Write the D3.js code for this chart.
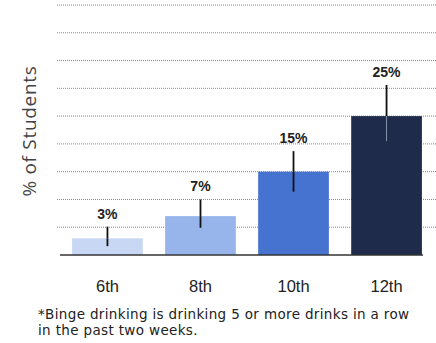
<!DOCTYPE html>
<html><head><meta charset="utf-8">
<script src="https://cdn.jsdelivr.net/npm/d3@7"></script>
<style>body{margin:0;background:#fff}</style>
</head><body>
<script>
const categories = ["6th", "8th", "10th", "12th"];
const values = [3, 7, 15, 25];
const errLow = [1.6, 4.9, 11.4, 20.5];
const errHigh = [5.1, 10, 18.7, 30.6];
const labels = ["3%", "7%", "15%", "25%"];
const colors = ["#c8d7f4", "#97b5eb", "#4673cf", "#1f2b4b"];
const gridTicks = [5, 10, 15, 20, 25, 30, 35, 40, 45];

const W = 436, H = 343;
const svg = d3.select("body").append("svg").attr("width", W).attr("height", H);

const x = d3.scaleBand().domain(categories).range([60, 434]).paddingInner(0.24).paddingOuter(0.13);
const y = d3.scaleLinear().domain([0, 45]).range([255, 5]);

// gridlines
svg.append("g").selectAll("line").data(gridTicks).join("line")
  .attr("x1", 57).attr("x2", 436)
  .attr("y1", d => y(d)).attr("y2", d => y(d))
  .attr("stroke", "#888").attr("stroke-width", 1).attr("stroke-dasharray", "1,1");

// bars
svg.append("g").selectAll("rect").data(values).join("rect")
  .attr("x", (d, i) => x(categories[i]))
  .attr("width", x.bandwidth())
  .attr("y", d => y(d))
  .attr("height", d => y(0) - y(d))
  .attr("fill", (d, i) => colors[i]);

// baseline
svg.append("line").attr("x1", 60).attr("x2", 423).attr("y1", y(0)).attr("y2", y(0))
  .attr("stroke", "#333").attr("stroke-width", 1.5);

// error bars: upper (above bar) and lower (inside bar)
const eg = svg.append("g");
values.forEach((v, i) => {
  const cx = x(categories[i]) + x.bandwidth() / 2;
  eg.append("line").attr("x1", cx).attr("x2", cx).attr("y1", y(errHigh[i])).attr("y2", y(v))
    .attr("stroke", "#111").attr("stroke-width", 1.8);
  eg.append("line").attr("x1", cx).attr("x2", cx).attr("y1", y(v)).attr("y2", y(errLow[i]))
    .attr("stroke", i === 3 ? "#8a93a8" : "#111").attr("stroke-width", i === 3 ? 1 : 1.8);
});

// value labels
svg.append("g").selectAll("text").data(labels).join("text")
  .attr("x", (d, i) => x(categories[i]) + x.bandwidth() / 2)
  .attr("y", (d, i) => y(errHigh[i]) - 8)
  .attr("text-anchor", "middle")
  .attr("font-family", "Liberation Sans, Arial, sans-serif")
  .attr("font-weight", "bold").attr("font-size", 14).attr("fill", "#222")
  .text(d => d);

// x tick labels
svg.append("g").selectAll("text").data(categories).join("text")
  .attr("x", d => x(d) + x.bandwidth() / 2)
  .attr("y", 292)
  .attr("text-anchor", "middle")
  .attr("font-family", "Liberation Sans, Arial, sans-serif")
  .attr("font-size", 16.5).attr("fill", "#222")
  .text(d => d);

// y title
svg.append("text")
  .attr("transform", "translate(36,131) rotate(-90)")
  .attr("text-anchor", "middle")
  .attr("font-family", "Open Sans, sans-serif")
  .attr("font-size", 19).attr("letter-spacing", 0.7).attr("fill", "#444")
  .text("% of Students");

// footnote
const fn = svg.append("text")
  .attr("font-family", "DejaVu Sans, Verdana, sans-serif")
  .attr("font-size", 13.5).attr("letter-spacing", 0.35).attr("fill", "#222");
fn.append("tspan").attr("x", 38).attr("y", 319).text("*Binge drinking is drinking 5 or more drinks in a row");
fn.append("tspan").attr("x", 38).attr("y", 335).text("in the past two weeks.");
</script>
</body></html>
